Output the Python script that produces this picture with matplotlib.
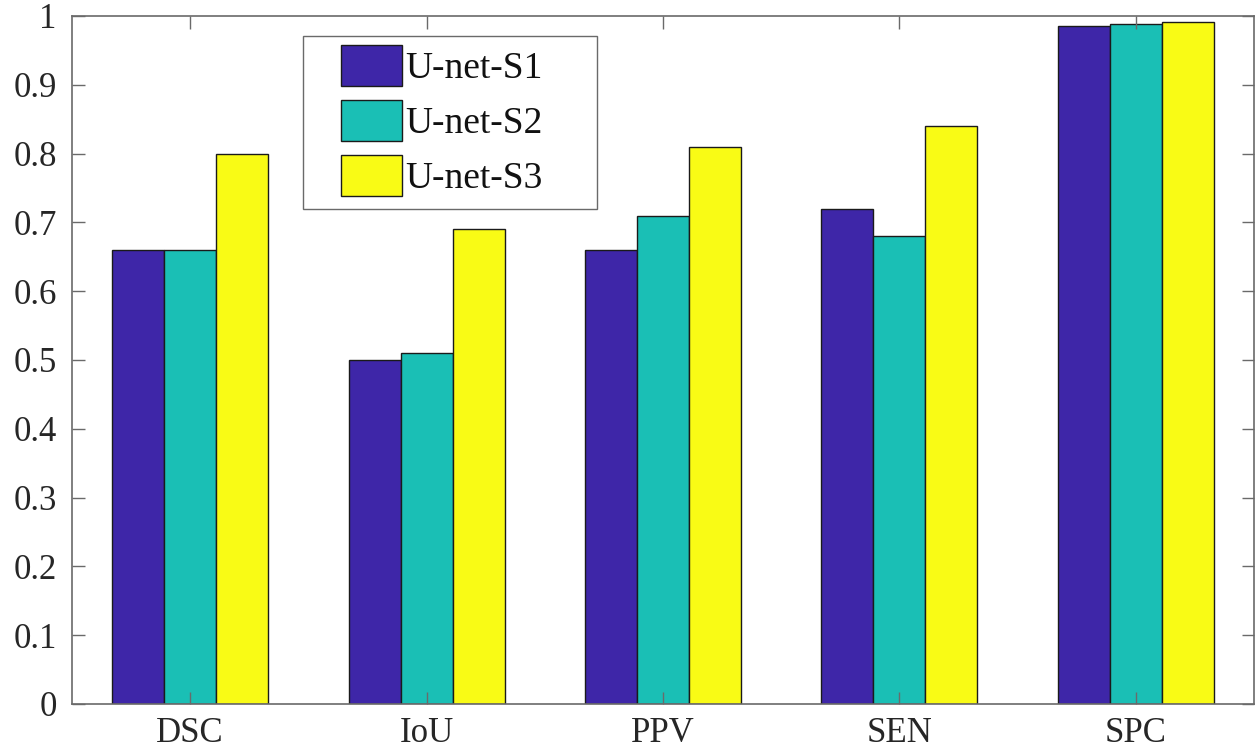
import matplotlib
matplotlib.use("Agg")
import matplotlib.pyplot as plt
from matplotlib.patches import Rectangle
import numpy as np

categories = ["DSC", "IoU", "PPV", "SEN", "SPC"]
s1 = [0.66, 0.50, 0.66, 0.72, 0.985]
s2 = [0.66, 0.51, 0.71, 0.68, 0.989]
s3 = [0.80, 0.69, 0.81, 0.84, 0.992]
series_names = ["U-net-S1", "U-net-S2", "U-net-S3"]
colors = ["#3E26A8", "#1ABFB5", "#F9FB15"]
yticks = [0, 0.1, 0.2, 0.3, 0.4, 0.5, 0.6, 0.7, 0.8, 0.9, 1]
yticklabels = ["0", "0.1", "0.2", "0.3", "0.4", "0.5", "0.6", "0.7", "0.8", "0.9", "1"]

plt.rcParams['font.family'] = ['Liberation Serif', 'DejaVu Serif']

W, H = 1260, 752
fig = plt.figure(figsize=(W/100, H/100), dpi=100)
ax_l, ax_r, ax_t, ax_b = 72, 1254, 16, 704
ax = fig.add_axes([ax_l/W, 1 - ax_b/H, (ax_r-ax_l)/W, (ax_b-ax_t)/H])

x = np.arange(1, len(categories) + 1)
w = 0.22
for i, (vals, name, c) in enumerate(zip([s1, s2, s3], series_names, colors)):
    ax.bar(x + (i - 1) * w, vals, width=w, color=c, edgecolor="#1a1a1a",
           linewidth=1.0, label=name)

ax.set_xlim(0.5, 5.5)
ax.set_ylim(0, 1)
ax.set_xticks(x)
ax.set_xticklabels(categories)
ax.set_yticks(yticks)
ax.set_yticklabels(yticklabels)

for sp in ax.spines.values():
    sp.set_color("#6a6a6a")
    sp.set_linewidth(1.2)

ax.tick_params(axis="both", direction="in", length=9, width=1.0, color="#6a6a6a",
               labelcolor="#262626", top=True, right=True)
ax.tick_params(axis="x", pad=9, labelsize=25)
ax.tick_params(axis="y", pad=11, labelsize=25)

def fx(px):
    return (px - ax_l) / (ax_r - ax_l)

def fy(py):
    return (ax_b - py) / (ax_b - ax_t)

# legend frame
box = Rectangle((fx(303), fy(209)), fx(597) - fx(303), fy(36) - fy(209),
                transform=ax.transAxes, facecolor="white", edgecolor="#6a6a6a",
                linewidth=1.0, zorder=4)
ax.add_patch(box)

leg = ax.legend(loc="upper left", bbox_to_anchor=(fx(341), fy(45)),
                fontsize=27, frameon=False,
                handlelength=1.62, handleheight=1.3, handletextpad=0.08,
                labelspacing=0.37, borderpad=0, borderaxespad=0)
leg.set_zorder(5)
for t in leg.get_texts():
    t.set_color("#111111")

fig.savefig("out.png", dpi=100)
